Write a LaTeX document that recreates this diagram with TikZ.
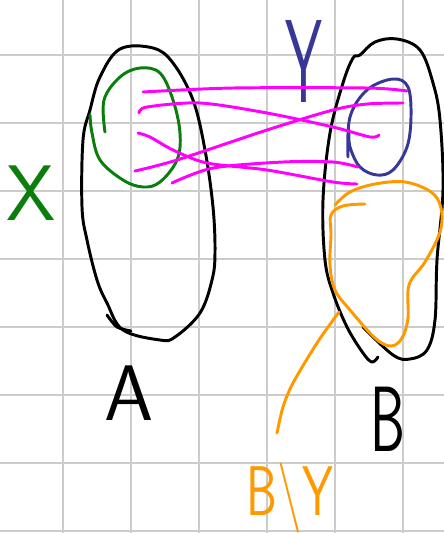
\documentclass[tikz,border=0pt]{standalone}
\usepackage{tikz}
\usetikzlibrary{positioning}
\definecolor{gridgrey}{RGB}{204,204,204}
\definecolor{penblack}{RGB}{0,0,0}
\definecolor{pengreen}{RGB}{10,125,10}
\definecolor{penblue}{RGB}{55,55,150}
\definecolor{penmagenta}{RGB}{255,0,255}
\definecolor{penorange}{RGB}{255,153,0}
\tikzset{
    gridline/.style={
        draw=gridgrey,
        line width=1.1pt
    },
    stroke/.style={
        line width=2.1pt,
        line cap=round,
        line join=round
    },
    hand/.style={
        font=\sffamily,
        inner sep=0pt
    }
}

\begin{document}
\begin{tikzpicture}[x=0.025cm,y=-0.025cm]

\useasboundingbox (0,0) rectangle (444,533);

% grid
\foreach \gx in {63,131,199,267,335,403}
    \draw[gridline] (\gx,0) -- (\gx,533);
\foreach \gy in {55,123,191,259,327,395,463,531}
    \draw[gridline] (0,\gy) -- (444,\gy);

% ------------------------------------------------------------
% Set A
% ------------------------------------------------------------

\draw[stroke, penblack] plot[smooth cycle, tension=0.6] coordinates
{(120,49) (153,48) (173,63) (193,100) (205,150) (213,207) (215,253)
 (212,280) (200,313) (175,337) (160,340) (123,330) (107,303) (97,280)
 (87,240) (82,207) (83,140) (90,110) (100,77)};
\draw[stroke, penblack] plot[smooth] coordinates {(107,315) (117,327) (131,331)};

\draw[stroke, pengreen] plot[smooth, tension=0.6] coordinates
{(105,132) (104,100) (120,77) (140,68) (160,73) (173,100) (180,133)
 (177,160) (160,182) (143,187) (123,180) (100,160) (92,133) (90,115)};

\node[hand, pengreen, font=\sffamily\fontsize{56}{56}\selectfont] (labelX) at (31,193) {X};

% ------------------------------------------------------------
% Set B
% ------------------------------------------------------------

\draw[stroke, penblack] plot[smooth, tension=0.6] coordinates
{(363,327) (393,355) (410,359) (427,350) (435,320) (437,260) (443,190)
 (440,120) (433,83) (420,50) (397,39) (375,42) (360,55) (353,58)
 (343,83) (330,133) (323,200) (325,260) (333,293) (347,327) (363,353)
 (372,362) (378,357)};

\draw[stroke, penblue] plot[smooth, tension=0.6] coordinates
{(348,157) (350,117) (367,90) (393,79) (408,87) (411,117) (407,147)
 (393,170) (377,175) (360,167) (350,147) (349,130)};

\node[hand, penblue, font=\sffamily\fontsize{84}{84}\selectfont, xscale=0.5] (labelY) at (304,62) {Y};

% ------------------------------------------------------------
% Pairs
% ------------------------------------------------------------

\draw[stroke, penmagenta] plot[smooth] coordinates
{(143,92) (233,88) (367,88) (407,91)};
\draw[stroke, penmagenta] plot[smooth] coordinates
{(139,113) (147,107) (200,103) (267,113) (333,127) (370,137) (379,135)};
\draw[stroke, penmagenta] plot[smooth] coordinates
{(138,133) (150,137) (173,150) (207,163) (267,170) (333,182) (357,184)};
\draw[stroke, penmagenta] plot[smooth] coordinates
{(135,171) (177,160) (267,130) (333,110) (367,104) (403,103)};
\draw[stroke, penmagenta] plot[smooth] coordinates
{(172,183) (213,168) (283,162) (333,162) (358,167)};

% ------------------------------------------------------------
% B minus Y
% ------------------------------------------------------------

\draw[stroke, penorange] plot[smooth, tension=0.6] coordinates
{(365,204) (343,206) (331,215) (331,235) (330,265) (335,290) (350,310)
 (375,338) (391,346) (402,338) (408,318) (409,285) (425,262) (440,232)
 (441,208) (431,192) (405,182) (375,184) (350,192) (335,205)};
\draw[stroke, penorange] plot[smooth] coordinates
{(339,312) (317,343) (293,383) (283,407) (277,433)};

% labels
\node[hand, penblack, font=\sffamily\fontsize{56}{56}\selectfont] (labelA) at (129,393) {A};
\node[hand, penblack, font=\sffamily\fontsize{66}{66}\selectfont, xscale=0.6] (labelB) at (388,419) {B};
\node[hand, penorange, font=\sffamily\fontsize{50}{50}\selectfont, xscale=0.7] (labelBY) at (290,498) {B\textbackslash Y};

\end{tikzpicture}
\end{document}
